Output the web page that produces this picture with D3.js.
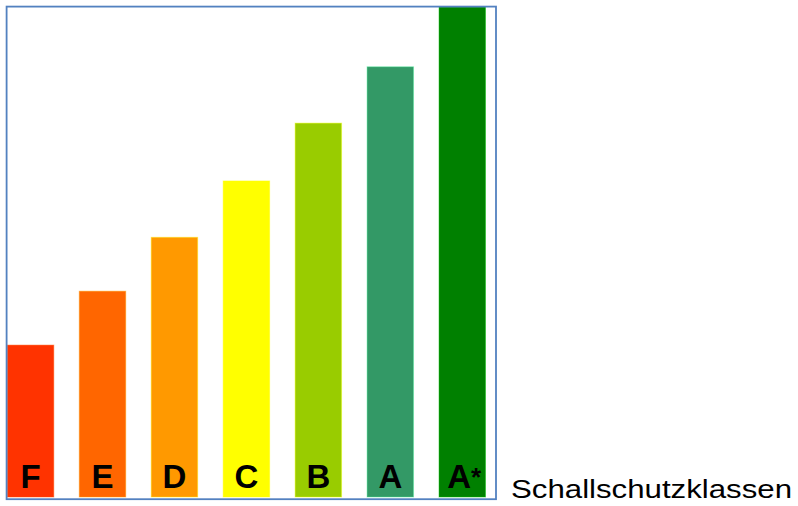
<!DOCTYPE html>
<html>
<head>
<meta charset="utf-8">
<script src="https://cdn.jsdelivr.net/npm/d3@7"></script>
<style>
  html, body { margin: 0; padding: 0; background: #fff; }
  svg { display: block; }
</style>
</head>
<body>
<div id="chart"></div>
<script>
// Schallschutzklassen, lowest to highest
const classes = ['F', 'E', 'D', 'C', 'B', 'A', 'A*'];
const levels = [31, 42, 53, 64.5, 76.3, 87.8, 100];
const barColors = ['#ff3300', '#ff6600', '#ff9900', '#ffff00', '#99cc00', '#339966', '#008000'];
const caption = 'Schallschutzklassen';

document.addEventListener('DOMContentLoaded', function() {
  createClassChart();
});

function createClassChart() {
  const width = 798;
  const height = 506;

  const svg = d3.select('#chart').append('svg')
    .attr('width', width)
    .attr('height', height);

  // plot area inside the blue frame
  const frame = { left: 6.6, top: 6.6, right: 496, bottom: 499.2 };

  const x = d3.scaleBand()
    .domain(classes)
    .range([7.3, 485.5])
    .paddingInner(0.354)
    .paddingOuter(0);

  const y = d3.scaleLinear()
    .domain([0, 100])
    .range([497, 7]);

  const data = classes.map((c, i) => ({ name: c, value: levels[i], color: barColors[i] }));

  // bars
  svg.selectAll('.bar')
    .data(data)
    .enter().append('rect')
    .attr('class', 'bar')
    .attr('x', d => x(d.name))
    .attr('y', d => y(d.value))
    .attr('width', x.bandwidth())
    .attr('height', d => y(0) - y(d.value))
    .attr('fill', d => d.color)
    .attr('stroke', d => d3.color(d.color).brighter(1.2))
    .attr('stroke-opacity', 0.45)
    .attr('stroke-width', 1);

  // class letters at the foot of each bar, the star drawn small and raised
  const labels = svg.selectAll('.bar-label')
    .data(data)
    .enter().append('text')
    .attr('class', 'bar-label')
    .attr('x', d => x(d.name) + x.bandwidth() / 2 + (d.name.length > 1 ? 2 : 0))
    .attr('y', 487.5)
    .attr('text-anchor', 'middle')
    .attr('font-family', 'Liberation Sans, Arial, sans-serif')
    .attr('font-weight', 'bold')
    .attr('font-size', '33px')
    .attr('fill', '#000');

  labels.append('tspan')
    .text(d => d.name.charAt(0));

  labels.filter(d => d.name.length > 1)
    .append('tspan')
    .attr('font-size', '26px')
    .attr('dy', -2)
    .text(d => d.name.slice(1));

  // frame
  svg.append('rect')
    .attr('x', frame.left)
    .attr('y', frame.top)
    .attr('width', frame.right - frame.left)
    .attr('height', frame.bottom - frame.top)
    .attr('fill', 'none')
    .attr('stroke', '#5381c0')
    .attr('stroke-width', 1.8);

  // caption to the right
  svg.append('text')
    .attr('x', 511)
    .attr('y', 498)
    .attr('font-family', 'Liberation Sans, Arial, sans-serif')
    .attr('font-size', '25px')
    .attr('fill', '#000')
    .attr('textLength', 281)
    .attr('lengthAdjust', 'spacingAndGlyphs')
    .text(caption);
}
</script>
</body>
</html>
